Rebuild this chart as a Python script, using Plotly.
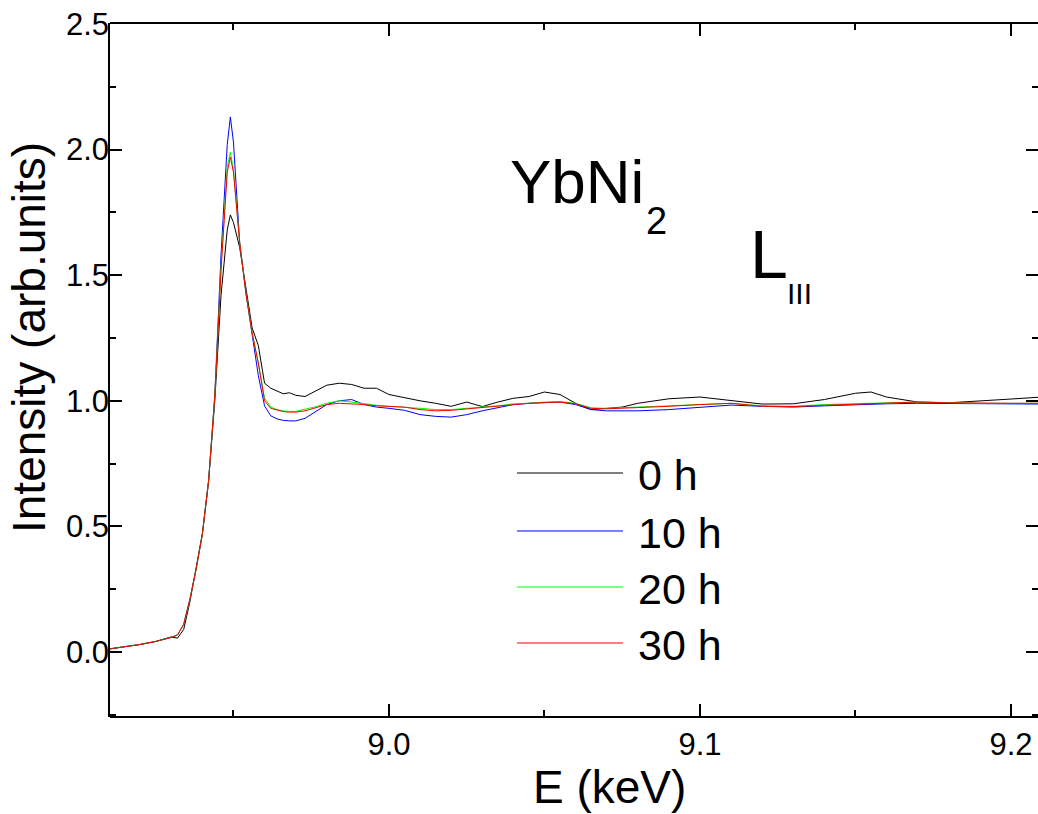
import plotly.graph_objects as go

# ---- data ----
energy_keV = [8.910, 8.915, 8.920, 8.925, 8.930, 8.932, 8.934, 8.936, 8.938, 8.940,
              8.942, 8.944, 8.946, 8.948, 8.949, 8.950, 8.952, 8.954, 8.956, 8.958,
              8.960, 8.962, 8.964, 8.966, 8.968, 8.970, 8.973, 8.976, 8.980, 8.984,
              8.988, 8.992, 8.996, 9.000, 9.005, 9.010, 9.015, 9.020, 9.025, 9.030,
              9.035, 9.040, 9.045, 9.050, 9.055, 9.060, 9.065, 9.070, 9.075, 9.080,
              9.090, 9.100, 9.110, 9.120, 9.130, 9.140, 9.150, 9.155, 9.160, 9.170,
              9.180, 9.190, 9.200, 9.210]

int_0h = [0.012, 0.020, 0.030, 0.042, 0.060, 0.055, 0.090, 0.200, 0.330, 0.470,
          0.680, 1.000, 1.420, 1.680, 1.740, 1.710, 1.610, 1.450, 1.290, 1.220,
          1.070, 1.050, 1.040, 1.028, 1.032, 1.022, 1.017, 1.035, 1.062, 1.070,
          1.065, 1.050, 1.050, 1.025, 1.012, 1.000, 0.990, 0.978, 0.995, 0.977,
          0.995, 1.010, 1.017, 1.035, 1.025, 0.990, 0.965, 0.970, 0.975, 0.990,
          1.008, 1.015, 1.000, 0.987, 0.988, 1.005, 1.030, 1.035, 1.015, 0.995,
          0.992, 0.998, 1.007, 1.015]

int_10h = [0.012, 0.020, 0.030, 0.042, 0.058, 0.068, 0.110, 0.210, 0.330, 0.470,
           0.680, 1.020, 1.580, 2.020, 2.130, 2.030, 1.630, 1.430, 1.270, 1.100,
           0.980, 0.940, 0.928, 0.922, 0.920, 0.920, 0.930, 0.955, 0.985, 1.000,
           1.005, 0.985, 0.975, 0.970, 0.962, 0.945, 0.938, 0.935, 0.945, 0.960,
           0.973, 0.985, 0.990, 0.993, 0.995, 0.985, 0.965, 0.960, 0.960, 0.960,
           0.965, 0.975, 0.983, 0.978, 0.975, 0.980, 0.985, 0.987, 0.988, 0.990,
           0.990, 0.990, 0.988, 0.987]

int_20h = [0.012, 0.020, 0.030, 0.042, 0.058, 0.068, 0.110, 0.210, 0.330, 0.470,
           0.680, 1.020, 1.530, 1.930, 1.990, 1.920, 1.630, 1.430, 1.270, 1.150,
           1.010, 0.975, 0.965, 0.960, 0.957, 0.958, 0.965, 0.975, 0.990, 1.000,
           0.995, 0.988, 0.982, 0.978, 0.975, 0.970, 0.965, 0.965, 0.970, 0.975,
           0.980, 0.988, 0.990, 0.995, 0.997, 0.990, 0.972, 0.970, 0.972, 0.975,
           0.980, 0.985, 0.990, 0.980, 0.978, 0.985, 0.988, 0.990, 0.993, 0.995,
           0.993, 0.990, 0.990, 0.990]

int_30h = [0.012, 0.020, 0.030, 0.042, 0.058, 0.068, 0.110, 0.210, 0.330, 0.470,
           0.680, 1.020, 1.520, 1.910, 1.970, 1.910, 1.630, 1.430, 1.270, 1.150,
           1.000, 0.970, 0.962, 0.957, 0.955, 0.955, 0.960, 0.970, 0.985, 0.990,
           0.988, 0.985, 0.980, 0.977, 0.975, 0.965, 0.960, 0.962, 0.968, 0.973,
           0.978, 0.985, 0.990, 0.993, 0.995, 0.988, 0.970, 0.968, 0.970, 0.972,
           0.978, 0.985, 0.990, 0.978, 0.977, 0.982, 0.987, 0.990, 0.993, 0.995,
           0.992, 0.990, 0.990, 0.990]

series_names = ["0 h", "10 h", "20 h", "30 h"]
series_values = [int_0h, int_10h, int_20h, int_30h]
series_colors = ["#000000", "#0000ff", "#00ff00", "#ff0000"]

x_ticks = [9.0, 9.1, 9.2]
y_ticks = [0.0, 0.5, 1.0, 1.5, 2.0, 2.5]
x_title = "E (keV)"
y_title = "Intensity (arb.units)"

FONT = "Liberation Sans, Arial, sans-serif"

# window / figure size and plot area (pixels); the page body margin is removed
W, H = 1038, 814
PL, PR, PT, PB = 110, 1038, 24, 716
L_M, R_M, T_M, B_M = PL, W - PR, PT, H - PB
PW, PH = PR - PL, PB - PT


def fx(px):
    return (px - PL) / PW


def fy(py):
    return (PB - py) / PH


fig = go.Figure()
for name, vals, col in zip(series_names, series_values, series_colors):
    fig.add_trace(go.Scatter(x=energy_keV, y=vals, mode="lines", name=name,
                             line=dict(color=col, width=1), showlegend=False))

axis_common = dict(linewidth=2, linecolor="black", mirror="ticks",
                   ticks="inside", ticklen=12, tickwidth=2, tickcolor="black",
                   showgrid=False, zeroline=False, ticklabeloverflow="allow",
                   tickfont=dict(family=FONT, size=31, color="black"))

fig.update_xaxes(range=[8.9103, 9.2087], tickvals=x_ticks, showline=True,
                 ticktext=[f"{v:.1f}" for v in x_ticks],
                 minor=dict(ticks="inside", ticklen=6, tickwidth=2, tickcolor="black",
                            dtick=0.05, tick0=8.95),
                 **axis_common)
# the right-hand frame line lies just outside the picture, so the y axis line
# is drawn only on the left (as a shape) while its ticks are mirrored
fig.update_yaxes(range=[-0.2548, 2.5], tickvals=y_ticks, showline=False,
                 ticktext=[f"{v:.1f}" for v in y_ticks],
                 minor=dict(ticks="inside", ticklen=6, tickwidth=2, tickcolor="black",
                            dtick=0.25, tick0=0),
                 **axis_common)

shapes = [dict(type="line", xref="paper", yref="paper",
               x0=fx(109), x1=fx(109), y0=fy(717), y1=fy(23),
               line=dict(color="black", width=2))]

annos = []
# axis titles (placed as in the reference, slightly off-centre)
annos.append(dict(text=x_title, x=fx(609), y=fy(787), xanchor="center",
                  font=dict(size=46)))
annos.append(dict(text=y_title, x=fx(29), y=fy(338), xanchor="center",
                  textangle=-90, font=dict(size=46)))
# compound label
annos.append(dict(text="YbNi", x=fx(508), y=fy(182), font=dict(size=62)))
annos.append(dict(text="2", x=fx(644), y=fy(221), font=dict(size=38)))
annos.append(dict(text="L", x=fx(748), y=fy(254), font=dict(size=68)))
annos.append(dict(text="III", x=fx(785), y=fy(293), font=dict(size=30)))

legend_line_y = [473, 531, 587, 643]
for name, col, ly in zip(series_names, series_colors, legend_line_y):
    shapes.append(dict(type="line", xref="paper", yref="paper",
                       x0=fx(517), x1=fx(623), y0=fy(ly), y1=fy(ly),
                       line=dict(color=col, width=1)))
    annos.append(dict(text=name, x=fx(636), y=fy(ly + 2), font=dict(size=43)))

for a in annos:
    a.setdefault("xanchor", "left")
    a.update(xref="paper", yref="paper", yanchor="middle", showarrow=False)
    a["font"].update(family=FONT, color="black")

fig.update_layout(width=W, height=H, autosize=False,
                  margin=dict(l=L_M, r=R_M, t=T_M, b=B_M, pad=0),
                  paper_bgcolor="white", plot_bgcolor="white",
                  annotations=annos, shapes=shapes, showlegend=False)

fig.write_html("out.html", config={"displayModeBar": False},
               post_script="document.body.style.margin='0px';"
                           "document.body.style.overflow='hidden';")
